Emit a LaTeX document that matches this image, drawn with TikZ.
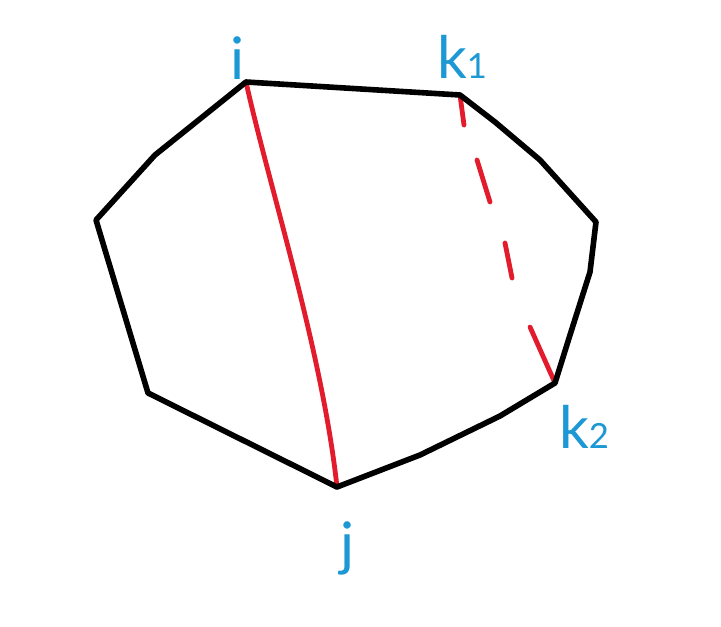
\documentclass[tikz,border=0pt]{standalone}
\usepackage{fontspec}
\setmainfont{Lato}
\usetikzlibrary{calc}
\definecolor{lblblue}{RGB}{28,152,212}
\definecolor{penred}{RGB}{226,28,44}
\tikzset{
  edge/.style={line width=4.2pt, black, line join=round, line cap=round},
  chord/.style={line width=3.6pt, penred, line cap=round},
  lbl/.style={text=lblblue, font=\fontsize{44}{44}\selectfont, inner sep=0pt}
}
\newcommand{\smalldigit}[1]{{\fontsize{26}{26}\selectfont #1}}
\begin{document}
\begin{tikzpicture}[x=0.75pt,y=-0.75pt]
\useasboundingbox (0,0) rectangle (721,627);
\fill[white] (0,0) rectangle (721,627);
\coordinate (i) at (246,82);
\coordinate (k1) at (460,95);
\coordinate (r) at (596,222);
\coordinate (k2) at (555,383);
\coordinate (j) at (337,487);
\coordinate (ll) at (148,393);
\coordinate (l) at (96,220);
\draw[chord] (i) .. controls (270,190) and (322,350) .. (j);
\draw[chord] (k1) -- (464,125);
\draw[chord] (477,160) -- (490,202);
\draw[chord] (505,243) -- (512,278);
\draw[chord] (530,327) -- (k2);
\draw[edge] (i) -- (k1) -- (495,122) -- (540,160) -- (r) -- (590,272) -- (570,335) -- (k2) -- (500,416) -- (420,455) -- (j) -- (ll) -- (l) -- (155,155) -- cycle;
\node[lbl] (li) at (238,58) {i};
\node[lbl] (lk1) at (462,57) {k\smalldigit{1}};
\node[lbl] (lk2) at (584,427) {k\smalldigit{2}};
\node[lbl] (lj) at (348,548) {j};
\end{tikzpicture}
\end{document}
